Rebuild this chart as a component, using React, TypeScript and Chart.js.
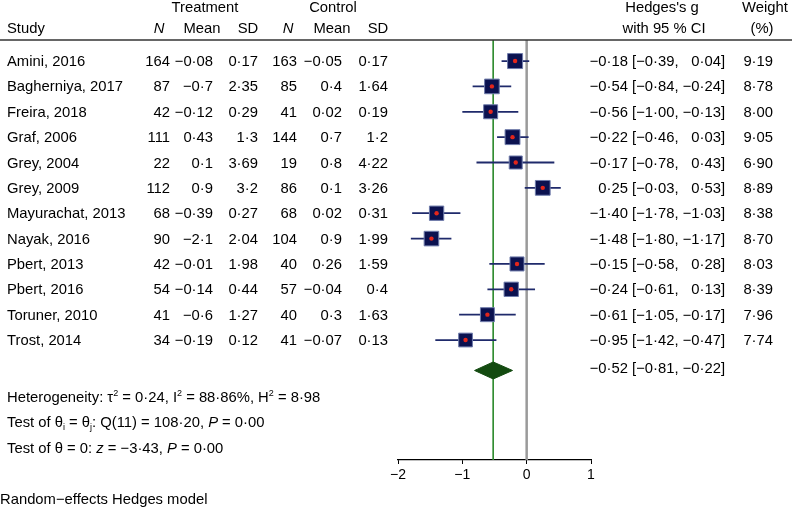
import React, { useEffect, useRef } from "react";
import { Chart, registerables } from "chart.js";
Chart.register(...registerables);

const studies = [
  "Amini, 2016", "Bagherniya, 2017", "Freira, 2018", "Graf, 2006", "Grey, 2004", "Grey, 2009",
  "Mayurachat, 2013", "Nayak, 2016", "Pbert, 2013", "Pbert, 2016", "Toruner, 2010", "Trost, 2014",
];
const tN = [164, 87, 42, 111, 22, 112, 68, 90, 42, 54, 41, 34];
const tMean = [-0.08, -0.7, -0.12, 0.43, 0.1, 0.9, -0.39, -2.1, -0.01, -0.14, -0.6, -0.19];
const tSD = [0.17, 2.35, 0.29, 1.3, 3.69, 3.2, 0.27, 2.04, 1.98, 0.44, 1.27, 0.12];
const cN = [163, 85, 41, 144, 19, 86, 68, 104, 40, 57, 40, 41];
const cMean = [-0.05, 0.4, 0.02, 0.7, 0.8, 0.1, 0.02, 0.9, 0.26, -0.04, 0.3, -0.07];
const cSD = [0.17, 1.64, 0.19, 1.2, 4.22, 3.26, 0.31, 1.99, 1.59, 0.4, 1.63, 0.13];
const hedgesG = [-0.18, -0.54, -0.56, -0.22, -0.17, 0.25, -1.4, -1.48, -0.15, -0.24, -0.61, -0.95];
const ciLow = [-0.39, -0.84, -1.0, -0.46, -0.78, -0.03, -1.78, -1.8, -0.58, -0.61, -1.05, -1.42];
const ciHigh = [0.04, -0.24, -0.13, 0.03, 0.43, 0.53, -1.03, -1.17, 0.28, 0.13, -0.17, -0.47];
const weights = [9.19, 8.78, 8.0, 9.05, 6.9, 8.89, 8.38, 8.7, 8.03, 8.39, 7.96, 7.74];
const overallEst = -0.52;
const overallLow = -0.81;
const overallHigh = -0.22;
const xTicks = [-2, -1, 0, 1];

// layout (row units on the y scale)
const yMin = -0.83;
const yMax = 15.73;
const overallRow = 12.2;
const statRows = [13.25, 14.25, 15.25];
const diamondHalf = 0.335;

const FAMILY = '"Liberation Sans", Arial, Helvetica, sans-serif';
const F = 14.8;

const fmt = (v: number, d?: number) =>
  (d != null ? v.toFixed(d) : String(v)).replace("-", "\u2212").replace(".", "\u00b7");

type Seg = { t: string; it?: boolean; sup?: boolean; sub?: boolean };

const font = (italic: boolean, size: number) => `${italic ? "italic " : ""}${size}px ${FAMILY}`;

const textPlugin = {
  id: "forestText",
  afterDraw(chart: any) {
    const ctx: CanvasRenderingContext2D = chart.ctx;
    const ys = chart.scales.y;
    const top = chart.chartArea.top;
    ctx.save();
    ctx.fillStyle = "#000";
    ctx.textBaseline = "alphabetic";
    const txt = (s: string, x: number, y: number, align: CanvasTextAlign = "left", italic = false) => {
      ctx.font = font(italic, F);
      ctx.textAlign = align;
      ctx.fillText(s, x, y);
    };
    const rich = (segs: Seg[], x: number, y: number) => {
      ctx.textAlign = "left";
      for (const s of segs) {
        const size = s.sup || s.sub ? 9 : F;
        ctx.font = font(!!s.it, size);
        const dy = s.sup ? -6 : s.sub ? 3 : 0;
        ctx.fillText(s.t, x, y + dy);
        x += ctx.measureText(s.t).width;
      }
    };

    // header
    const h1 = 12;
    const h2 = 33;
    txt("Treatment", 205, h1, "center");
    txt("Control", 333, h1, "center");
    txt("Hedges's g", 662, h1, "center");
    txt("Weight", 765, h1, "center");
    txt("Study", 7, h2);
    txt("N", 159, h2, "center", true);
    txt("Mean", 202, h2, "center");
    txt("SD", 248, h2, "center");
    txt("N", 288, h2, "center", true);
    txt("Mean", 332, h2, "center");
    txt("SD", 378, h2, "center");
    txt("with 95 % CI", 664, h2, "center");
    txt("(%)", 762, h2, "center");

    ctx.strokeStyle = "#333";
    ctx.lineWidth = 1.5;
    ctx.beginPath();
    ctx.moveTo(0, top);
    ctx.lineTo(chart.width, top);
    ctx.stroke();

    // CI column geometry from text widths
    ctx.font = font(false, F);
    const sp = ctx.measureText(" ").width;
    const ciRight = 725;
    const lowRight = ciRight - ctx.measureText("\u22120\u00b700]").width - sp;
    const estRight = lowRight - ctx.measureText("[\u22120\u00b700,").width - sp;
    const ciText = (e: number, l: number, h: number, y: number) => {
      txt(fmt(e, 2), estRight, y, "right");
      txt("[" + fmt(l, 2) + ",", lowRight, y, "right");
      txt(fmt(h, 2) + "]", ciRight, y, "right");
    };

    const off = 5;
    studies.forEach((s, i) => {
      const y = ys.getPixelForValue(i) + off;
      txt(s, 7, y);
      txt(String(tN[i]), 170, y, "right");
      txt(fmt(tMean[i]), 213, y, "right");
      txt(fmt(tSD[i]), 258, y, "right");
      txt(String(cN[i]), 297, y, "right");
      txt(fmt(cMean[i]), 342, y, "right");
      txt(fmt(cSD[i]), 388, y, "right");
      ciText(hedgesG[i], ciLow[i], ciHigh[i], y);
      txt(fmt(weights[i], 2), 773, y, "right");
    });
    const yo = ys.getPixelForValue(overallRow) + off - 2;
    ciText(overallEst, overallLow, overallHigh, yo);

    rich(
      [
        { t: "Heterogeneity: \u03c4" }, { t: "2", sup: true },
        { t: " = 0\u00b724, I" }, { t: "2", sup: true },
        { t: " = 88\u00b786%, H" }, { t: "2", sup: true },
        { t: " = 8\u00b798" },
      ],
      7, ys.getPixelForValue(statRows[0]) + off
    );
    rich(
      [
        { t: "Test of \u03b8" }, { t: "i", sub: true },
        { t: " = \u03b8" }, { t: "j", sub: true },
        { t: ": Q(11) = 108\u00b720, " }, { t: "P", it: true },
        { t: " = 0\u00b700" },
      ],
      7, ys.getPixelForValue(statRows[1]) + off
    );
    rich(
      [
        { t: "Test of \u03b8 = 0: " }, { t: "z", it: true },
        { t: " = \u22123\u00b743, " }, { t: "P", it: true },
        { t: " = 0\u00b700" },
      ],
      7, ys.getPixelForValue(statRows[2]) + off
    );
    txt("Random\u2212effects Hedges model", 0, 504);
    ctx.restore();
  },
};

export default function App() {
  const ref = useRef<HTMLCanvasElement | null>(null);
  useEffect(() => {
    if (!ref.current) return;
    const ciData: any[] = [];
    hedgesG.forEach((_, i) => {
      ciData.push({ x: ciLow[i], y: i }, { x: ciHigh[i], y: i }, { x: null, y: null });
    });
    const chart = new Chart(ref.current, {
      type: "scatter",
      data: {
        datasets: [
          {
            data: [{ x: 0, y: yMin }, { x: 0, y: yMax }],
            showLine: true,
            borderColor: "#9a9a9a",
            borderWidth: 2.5,
            pointRadius: 0,
            order: 10,
          } as any,
          {
            data: [{ x: overallEst, y: yMin }, { x: overallEst, y: yMax }],
            showLine: true,
            borderColor: "#2e8b2e",
            borderWidth: 1,
            pointRadius: 0,
            order: 9,
          },
          {
            data: ciData,
            showLine: true,
            spanGaps: false,
            borderColor: "#1f2a6b",
            borderWidth: 1.8,
            pointRadius: 0,
            order: 5,
          },
          {
            data: [
              { x: overallLow, y: overallRow },
              { x: overallEst, y: overallRow - diamondHalf },
              { x: overallHigh, y: overallRow },
              { x: overallEst, y: overallRow + diamondHalf },
              { x: overallLow, y: overallRow },
            ],
            showLine: true,
            fill: "shape",
            backgroundColor: "#134a10",
            borderColor: "#134a10",
            borderWidth: 1,
            pointRadius: 0,
            tension: 0,
            order: 4,
          },
          {
            data: hedgesG.map((v, i) => ({ x: v, y: i })),
            pointStyle: "rect",
            pointRadius: weights.map((w) => 3.5 * Math.sqrt(w)),
            pointBackgroundColor: "#0b1250",
            pointBorderColor: "#6f7cab",
            pointBorderWidth: 1,
            order: 2,
          },
          {
            data: hedgesG.map((v, i) => ({ x: v, y: i })),
            pointStyle: "circle",
            pointRadius: 2.2,
            pointBackgroundColor: "#e3261b",
            pointBorderWidth: 0,
            order: 1,
          },
        ],
      },
      options: {
        animation: false,
        responsive: false,
        devicePixelRatio: 1,
        events: [],
        layout: { padding: { left: 398, right: 201, top: 40, bottom: 0 } },
        plugins: { legend: { display: false }, tooltip: { enabled: false } },
        scales: {
          x: {
            type: "linear",
            min: -2,
            max: 1,
            afterFit: (s: any) => {
              s.height = 49;
            },
            afterBuildTicks: (s: any) => {
              s.ticks = xTicks.map((v) => ({ value: v }));
            },
            ticks: {
              callback: (v: any) => fmt(Number(v)),
              font: { size: 14, family: FAMILY },
              color: "#000",
              padding: 3,
              maxRotation: 0,
              autoSkip: false,
            },
            grid: { drawOnChartArea: false, drawTicks: true, tickLength: 4, color: "#000", lineWidth: 1 },
            border: { display: true, color: "#000", width: 1.2 },
          },
          y: { type: "linear", min: yMin, max: yMax, reverse: true, display: false },
        },
      } as any,
      plugins: [textPlugin],
    });
    return () => chart.destroy();
  }, []);
  return (
    <div style={{ position: "absolute", left: 0, top: 0, width: 792, height: 509, background: "#fff" }}>
      <canvas ref={ref} width={792} height={509} style={{ display: "block" }} />
    </div>
  );
}
